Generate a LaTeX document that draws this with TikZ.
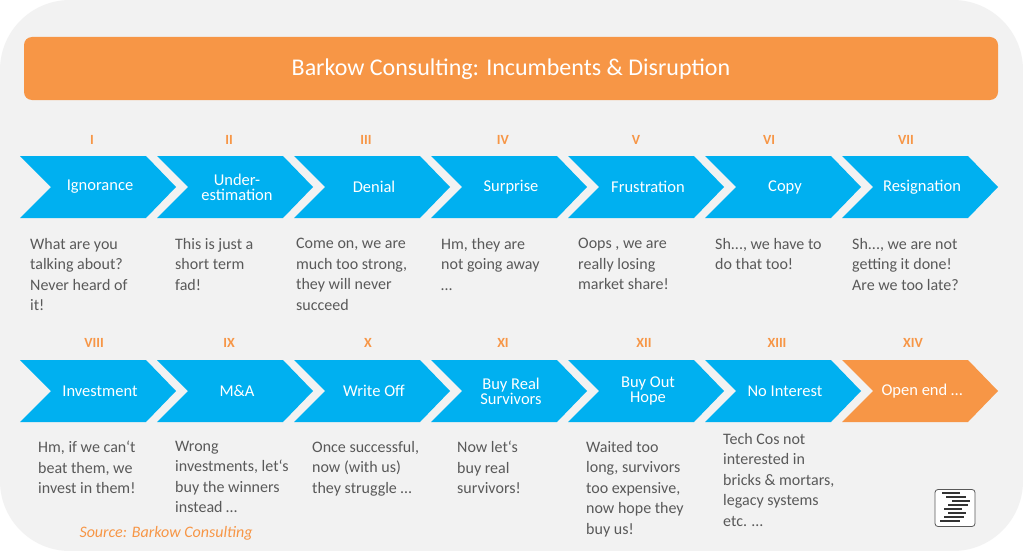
\documentclass[tikz,border=0pt]{standalone}
\usepackage{fontspec}
\setmainfont{Carlito}
\begin{document}
\begin{tikzpicture}[x=1pt,y=-1pt,
  desc/.style={anchor=north west,align=left,text=txt,font=\fontsize{16}{20.5}\selectfont,inner sep=0pt},
  roman/.style={text=org,font=\fontsize{14}{14}\selectfont\bfseries},
  lbl/.style={text=white,font=\fontsize{16.5}{18}\selectfont,align=center}]
\definecolor{org}{HTML}{F79646}
\definecolor{blu}{HTML}{00B0F0}
\definecolor{txt}{HTML}{595959}
\definecolor{bg}{HTML}{F2F2F2}
\useasboundingbox (0,0) rectangle (1023,551);
\fill[white] (0,0) rectangle (1023,551);
\fill[bg,rounded corners=70] (0,0) rectangle (1023,551);
\fill[org,rounded corners=8] (24,37) rectangle (998,100);
\node[text=white,font=\fontsize{24}{24}\selectfont] (title) at (511,69) {Barkow Consulting: Incumbents \& Disruption};
\newcommand{\chev}[4]{% start x, center y, color, name
  \fill[#3] (#1,#2-31) -- (#1+126,#2-31) -- (#1+156,#2) -- (#1+126,#2+31) -- (#1,#2+31) -- (#1+31,#2) -- cycle;
  \coordinate (#4) at (#1+80,#2);}
\foreach \s/\n in {20/a,157/b,294/c,431/d,568/e,705/f,842/g}{\chev{\s}{187}{blu}{\n}}
\foreach \s/\n in {20/h,157/i,294/j,431/k,568/l,705/m}{\chev{\s}{391}{blu}{\n}}
\chev{842}{391}{org}{n}
\node[lbl] (la) at (a) {Ignorance};
\node[lbl] (lb) at (b) {Under-\\[-3pt]estimation};
\node[lbl] (lc) at (c) {Denial};
\node[lbl] (ld) at (d) {Surprise};
\node[lbl] (le) at (e) {Frustration};
\node[lbl] (lf) at (f) {Copy};
\node[lbl] (lg) at (g) {Resignation};
\node[lbl] (lh) at (h) {Investment};
\node[lbl] (li) at (i) {M\&A};
\node[lbl] (lj) at (j) {Write Off};
\node[lbl] (lk) at (k) {Buy Real\\[-3pt]Survivors};
\node[lbl] (ll) at (l) {Buy Out\\[-3pt]Hope};
\node[lbl] (lm) at (m) {No Interest};
\node[lbl] (ln) at (n) {Open end \dots};
\foreach \x/\r/\n in {92/I/ra,229/II/rb,366/III/rc,503/IV/rd,636/V/re,769/VI/rf,906/VII/rg}{\node[roman] (\n) at (\x,140) {\r};}
\foreach \x/\r/\n in {94/VIII/rh,229/IX/ri,368/X/rj,503/XI/rk,644/XII/rl,777/XIII/rm,913/XIV/rn}{\node[roman] (\n) at (\x,343) {\r};}
\node[desc] (da) at (30,238) {What are you\\talking about?\\Never heard of\\it!};
\node[desc] (db) at (175,238) {This is just a\\short term\\fad!};
\node[desc] (dc) at (296,238) {Come on, we are\\much too strong,\\they will never\\succeed};
\node[desc] (dd) at (441,238) {Hm, they are\\not going away\\\dots};
\node[desc] (de) at (578,238) {Oops , we are\\really losing\\market share!};
\node[desc] (df) at (715,238) {Sh..., we have to\\do that too!};
\node[desc] (dg) at (852,238) {Sh..., we are not\\getting it done!\\Are we too late?};
\node[desc] (dh) at (38,441) {Hm, if we can‘t\\beat them, we\\invest in them!};
\node[desc] (di) at (175,441) {Wrong\\investments, let‘s\\buy the winners\\instead \dots};
\node[desc] (dj) at (312,441) {Once successful,\\now (with us)\\they struggle \dots};
\node[desc] (dk) at (457,441) {Now let‘s\\buy real\\survivors!};
\node[desc] (dl) at (586,441) {Waited too\\long, survivors\\too expensive,\\now hope they\\buy us!};
\node[desc] (dm) at (723,433) {Tech Cos not\\interested in\\bricks \& mortars,\\legacy systems\\etc. \dots};
\node[anchor=west,text=org,font=\fontsize{16}{16}\selectfont\itshape] (src) at (76,533) {Source: Barkow Consulting};
\node[draw=gray!70!black,fill=white,rounded corners=3,minimum width=40,minimum height=37,line width=0.8] (logo) at (955,508) {};
\foreach \y/\a/\b in {493/942/960,497/946/966,501/952/970,505/948/968,509/944/962,513/948/966,517/944/964,521/940/960}{\draw[black!80,line width=1.6] (\a,\y) -- (\b,\y);}
\end{tikzpicture}
\end{document}
